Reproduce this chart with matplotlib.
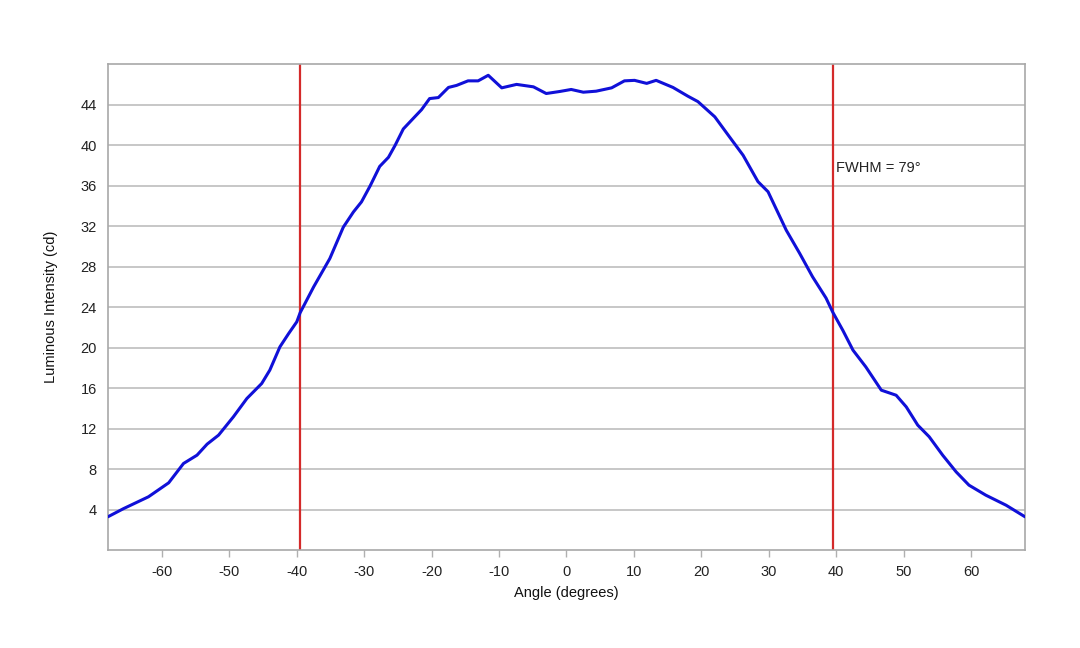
import matplotlib
matplotlib.use("Agg")
import matplotlib.pyplot as plt

plt.rcParams["font.family"] = ["Liberation Sans", "DejaVu Sans"]
plt.rcParams["axes.unicode_minus"] = False

# angle (degrees) and luminous intensity (cd)
angle = [-68.0, -65.7, -62.0, -59.0, -56.8, -54.8, -53.3, -51.6, -49.4, -47.4,
         -45.2, -44.0, -42.5, -41.2, -40.0, -39.5, -37.5, -35.1, -33.1, -31.6,
         -30.4, -29.1, -27.7, -26.4, -25.4, -24.2, -22.5, -21.5, -20.3, -19.0,
         -17.5, -16.3, -14.6, -13.1, -11.6, -9.6, -7.4, -4.9, -3.0, -1.0,
         0.7, 2.5, 4.4, 6.7, 8.6, 10.1, 11.9, 13.3, 15.8, 18.0,
         19.5, 22.0, 24.2, 26.2, 28.4, 29.9, 32.6, 34.6, 36.5, 38.5,
         39.5, 41.0, 42.5, 44.4, 46.7, 48.9, 50.4, 52.1, 53.8, 55.8,
         57.8, 59.7, 62.2, 65.2, 68.0]
intensity = [3.3, 4.1, 5.27, 6.65, 8.56, 9.38, 10.47, 11.36, 13.17, 14.98,
             16.46, 17.78, 20.08, 21.4, 22.55, 23.45, 26.0, 28.8, 31.9, 33.4,
             34.4, 36.0, 37.9, 38.8, 40.0, 41.6, 42.8, 43.5, 44.6, 44.7,
             45.7, 45.9, 46.35, 46.35, 46.9, 45.66, 46.0, 45.76, 45.1, 45.3,
             45.5, 45.23, 45.33, 45.66, 46.35, 46.4, 46.1, 46.4, 45.7, 44.84,
             44.3, 42.8, 40.8, 39.0, 36.4, 35.4, 31.6, 29.3, 27.0, 24.9,
             23.5, 21.7, 19.75, 18.1, 15.8, 15.3, 14.15, 12.35, 11.2, 9.38,
             7.73, 6.42, 5.43, 4.44, 3.3]
half_max_angles = [-39.5, 39.5]
fwhm_text = "FWHM = 79°"
x_ticks = [-60, -50, -40, -30, -20, -10, 0, 10, 20, 30, 40, 50, 60]
y_ticks = [4, 8, 12, 16, 20, 24, 28, 32, 36, 40, 44]

fig = plt.figure(figsize=(10.8, 6.48), dpi=100)
ax = fig.add_axes([0.1, 0.151, 0.849, 0.750])

ax.plot(angle, intensity, color="#1010d8", linewidth=2.2, zorder=3,
        solid_joinstyle="round", solid_capstyle="round")
for a in half_max_angles:
    ax.axvline(a, color="#d42a2a", linewidth=1.6, zorder=2)

ax.set_xlim(-68, 68)
ax.set_ylim(0, 48)
ax.set_xticks(x_ticks)
ax.set_yticks(y_ticks)
ax.grid(axis="y", color="#bdbdbd", linewidth=1.2)
ax.set_axisbelow(True)
for s in ax.spines.values():
    s.set_color("#a8a8a8")
    s.set_linewidth(1.2)
ax.tick_params(axis="x", colors="#b0b0b0", labelcolor="#222222",
               labelsize=10.5, length=5, width=1, pad=6)
ax.tick_params(axis="y", labelcolor="#222222", labelsize=10.5, length=0, pad=8)

ax.text(40.0, 37.7, fwhm_text, fontsize=10.5, color="#222222", va="center")
ax.set_xlabel("Angle (degrees)", fontsize=10.5, color="#111111", labelpad=5)
ax.set_ylabel("Luminous Intensity (cd)", fontsize=10.5, color="#111111", labelpad=16)

fig.savefig("out.png", dpi=100)
